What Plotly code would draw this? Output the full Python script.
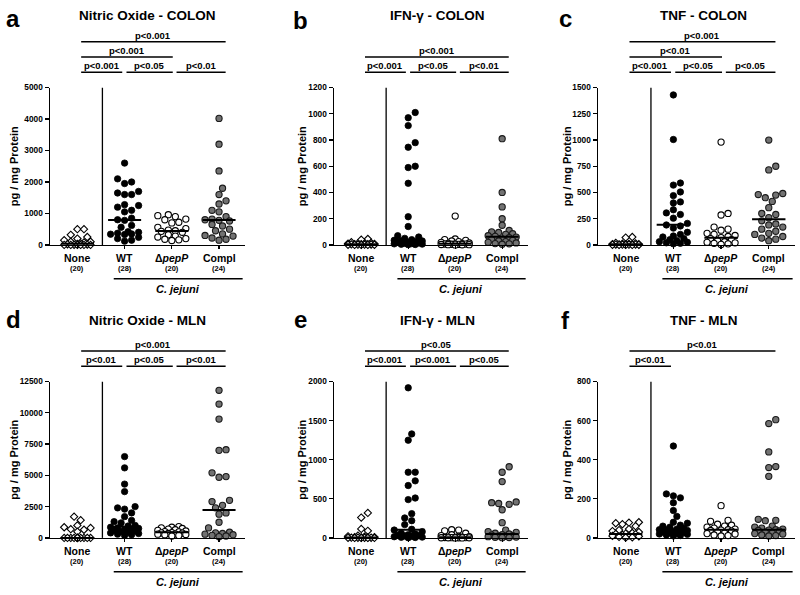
import numpy as np
import plotly.graph_objects as go

FONT = "Arial, Liberation Sans, sans-serif"
W, H = 800, 595

GROUPS = ["None", "WT", "Δ<i>pepP</i>", "Compl"]
COUNTS = ["(20)", "(28)", "(20)", "(24)"]

# ---------------- a: Nitric Oxide - COLON ----------------
a_none = [500, 500, 320, 250, 200, 150, 100, 100, 80, 50, 30, 20, 10, 5, 0, 0, 0, 0, 0, 0]
a_wt = [2600, 2100, 2000, 1950, 1700, 1650, 1600, 1600, 1280, 1250, 1200, 1100, 1050, 850,
        800, 780, 620, 560, 420, 400, 370, 350, 340, 330, 240, 200, 150, 120]
a_pepp = [960, 930, 900, 820, 800, 720, 700, 560, 520, 470, 450, 430, 400, 320, 280, 250,
          200, 180, 160, 140]
a_compl = [4020, 3200, 2350, 1800, 1600, 1400, 1300, 1100, 1050, 900, 820, 800, 780, 760,
           650, 600, 500, 450, 350, 300, 280, 220, 180, 150]
a_medians = [40, 790, 440, 790]
a_yticks = [0, 1000, 2000, 3000, 4000, 5000]
a_brackets = [(1, 2, "p<0.001", 0), (2, 3, "p<0.05", 0), (3, 4, "p<0.01", 0),
              (1, 3, "p<0.001", 1), (1, 4, "p<0.001", 2)]

# ---------------- b: IFN-γ - COLON ----------------
b_none = [45, 40, 20, 15, 12, 10, 10, 8, 6, 5, 5, 4, 3, 2, 2, 1, 1, 0, 0, 0]
b_wt = [1010, 970, 910, 780, 745, 600, 590, 470, 215, 140, 70, 60, 50, 40, 35, 30, 30, 25,
        20, 20, 15, 12, 10, 8, 6, 5, 3, 2]
b_pepp = [220, 45, 40, 35, 30, 25, 20, 15, 12, 10, 8, 7, 6, 5, 4, 3, 2, 2, 1, 0]
b_compl = [810, 400, 290, 200, 150, 110, 100, 95, 85, 80, 70, 65, 60, 55, 45, 40, 35, 30,
           25, 20, 15, 10, 8, 5]
b_medians = [5, 30, 8, 62]
b_yticks = [0, 200, 400, 600, 800, 1000, 1200]
b_brackets = [(1, 2, "p<0.001", 0), (2, 3, "p<0.05", 0), (3, 4, "p<0.01", 0),
              (1, 4, "p<0.001", 1)]

# ---------------- c: TNF - COLON ----------------
c_none = [75, 70, 20, 15, 12, 10, 8, 6, 5, 5, 4, 3, 3, 2, 2, 1, 1, 0, 0, 0]
c_wt = [1430, 1005, 590, 570, 505, 470, 410, 400, 335, 305, 290, 255, 205, 190, 180, 160,
        120, 100, 85, 75, 60, 50, 40, 30, 25, 20, 15, 10]
c_pepp = [980, 300, 285, 170, 150, 140, 110, 100, 90, 80, 70, 60, 50, 40, 30, 25, 20, 15,
          10, 5]
c_compl = [1000, 750, 715, 490, 480, 475, 450, 415, 355, 300, 290, 260, 230, 200, 190, 170,
           150, 130, 110, 100, 80, 65, 55, 40]
c_medians = [6, 191, 68, 245]
c_yticks = [0, 250, 500, 750, 1000, 1250, 1500]
c_brackets = [(1, 2, "p<0.001", 0), (2, 3, "p<0.05", 0), (3, 4, "p<0.05", 0),
              (1, 3, "p<0.01", 1), (1, 4, "p<0.001", 2)]

# ---------------- d: Nitric Oxide - MLN ----------------
d_none = [1700, 1420, 1000, 850, 800, 700, 650, 500, 0, 0, 0, 0, 0, 0, 0, 0, 0, 0, 0, 0]
d_wt = [6500, 5600, 4300, 3700, 2500, 2400, 2300, 2000, 1700, 1400, 1300, 1200, 1000, 950,
        850, 800, 750, 700, 650, 600, 550, 500, 450, 400, 350, 300, 250, 200]
d_pepp = [900, 850, 800, 750, 700, 650, 600, 550, 500, 480, 420, 400, 380, 350, 320, 300,
          280, 250, 200, 150]
d_compl = [11800, 10700, 9500, 7050, 7000, 5200, 4900, 4850, 3000, 2900, 2600, 2400, 2000,
           1900, 1250, 800, 450, 400, 350, 300, 250, 200, 150, 100]
d_medians = [0, 900, 445, 2220]
d_yticks = [0, 2500, 5000, 7500, 10000, 12500]
d_brackets = [(1, 2, "p<0.01", 0), (2, 3, "p<0.05", 0), (3, 4, "p<0.01", 0),
              (1, 4, "p<0.001", 1)]

# ---------------- e: IFN-γ - MLN ----------------
e_none = [320, 260, 115, 90, 30, 20, 15, 10, 8, 5, 5, 3, 2, 2, 1, 1, 0, 0, 0, 0]
e_wt = [1920, 1330, 1250, 840, 840, 730, 670, 510, 490, 310, 255, 220, 170, 110, 100, 80,
        60, 50, 40, 35, 30, 25, 20, 15, 10, 8, 5, 2]
e_pepp = [105, 100, 90, 60, 40, 30, 20, 15, 10, 8, 6, 5, 4, 3, 2, 2, 1, 1, 0, 0]
e_compl = [910, 840, 720, 460, 450, 440, 430, 360, 195, 100, 80, 70, 60, 50, 40, 35, 30, 25,
           20, 15, 10, 8, 5, 3]
e_medians = [5, 105, 7, 50]
e_yticks = [0, 500, 1000, 1500, 2000]
e_brackets = [(1, 2, "p<0.001", 0), (2, 3, "p<0.001", 0), (3, 4, "p<0.05", 0),
              (1, 4, "p<0.05", 1)]

# ---------------- f: TNF - MLN ----------------
f_none = [80, 78, 75, 70, 60, 45, 40, 35, 30, 25, 22, 20, 18, 15, 12, 10, 8, 5, 3, 2]
f_wt = [470, 225, 215, 205, 180, 140, 110, 80, 75, 65, 60, 55, 50, 45, 42, 40, 38, 35, 33,
        30, 28, 25, 22, 20, 18, 15, 12, 10]
f_pepp = [165, 90, 85, 70, 65, 60, 55, 50, 45, 42, 40, 38, 35, 30, 25, 22, 20, 15, 12, 10]
f_compl = [605, 585, 440, 365, 360, 315, 95, 90, 88, 60, 55, 50, 45, 42, 40, 38, 35, 30, 25,
           22, 20, 15, 12, 10]
f_medians = [20, 42, 42, 42]
f_yticks = [0, 200, 400, 600, 800]
f_brackets = [(1, 2, "p<0.01", 0), (1, 4, "p<0.01", 1)]

TITLES = ["Nitric Oxide - COLON", "IFN-γ - COLON", "TNF - COLON",
          "Nitric Oxide - MLN", "IFN-γ - MLN", "TNF - MLN"]
LETTERS = ["a", "b", "c", "d", "e", "f"]

panels = [
    ([a_none, a_wt, a_pepp, a_compl], a_medians, a_yticks, a_brackets),
    ([b_none, b_wt, b_pepp, b_compl], b_medians, b_yticks, b_brackets),
    ([c_none, c_wt, c_pepp, c_compl], c_medians, c_yticks, c_brackets),
    ([d_none, d_wt, d_pepp, d_compl], d_medians, d_yticks, d_brackets),
    ([e_none, e_wt, e_pepp, e_compl], e_medians, e_yticks, e_brackets),
    ([f_none, f_wt, f_pepp, f_compl], f_medians, f_yticks, f_brackets),
]

# ---- layout geometry (pixels) ----
X_DOM_PX = [(50, 245), (334, 528), (598, 795)]
Y_DOM_PX = [(84, 244), (383, 542)]          # (top, bottom=zero line)
XR = (0.42, 4.55)
TITLE_X = [147, 437, 703]
TITLE_Y = [10.5, 320.5]
LETTER_POS = [(13, 14), (300, 15.5), (565, 14), (13, 320), (300, 320), (565, 321)]
YTITLE_X = [14, 302, 567]
LEFT_EDGE = {1: 1.08, 2: 2.04, 3: 3.10}
RIGHT_EDGE = {2: 1.95, 3: 3.02, 4: 4.14}

MARKERS = [
    dict(symbol="diamond", size=5.6, color="white", line=dict(color="black", width=1.1)),
    dict(symbol="circle", size=6.4, color="black", line=dict(color="black", width=0.8)),
    dict(symbol="circle", size=6.2, color="white", line=dict(color="black", width=1.1)),
    dict(symbol="circle", size=6.2, color="#727272", line=dict(color="#1a1a1a", width=1.1)),
]


def fx(p):
    return p / W


def fy(p):
    return 1 - p / H


def swarm(vals, center, ymax, ppx, ppy, d=7.0, maxhalf=14):
    ys = np.asarray(vals, float)
    order = np.argsort(ys, kind="stable")
    placed = []
    xs = np.zeros(len(ys))
    cands = [0.0]
    for s in range(1, 14):
        cands += [s * d / 2, -s * d / 2]
    cands = [c for c in cands if abs(c) <= maxhalf]
    for k in order:
        yp = ys[k] * ppy
        best, bestscore, chosen = None, -1, None
        for c in cands:
            mind = min((np.hypot(c - px, yp - py) for px, py in placed), default=1e9)
            if mind >= d * 0.95:
                chosen = c
                break
            if mind > bestscore:
                bestscore, best = mind, c
        if chosen is None:
            chosen = best
        placed.append((chosen, yp))
        xs[k] = center + chosen / ppx
    return xs


fig = go.Figure()
shapes, annos = [], []
layout_axes = {}

for idx, (groups, medians, yticks, brackets) in enumerate(panels):
    row, col = divmod(idx, 3)
    n = idx + 1
    xa = "x" if n == 1 else f"x{n}"
    ya = "y" if n == 1 else f"y{n}"
    xkey = "xaxis" if n == 1 else f"xaxis{n}"
    ykey = "yaxis" if n == 1 else f"yaxis{n}"
    x0p, x1p = X_DOM_PX[col]
    ytp, ybp = Y_DOM_PX[row]
    ymax = yticks[-1]
    ppx = (x1p - x0p) / (XR[1] - XR[0])
    ppy = (ybp - ytp) / ymax

    layout_axes[xkey] = dict(domain=[fx(x0p), fx(x1p)], range=list(XR), anchor=ya,
                             showgrid=False, zeroline=False, showline=True, linecolor="black",
                             linewidth=1.5, ticks="outside", tickvals=[1, 2, 3, 4], ticklen=3,
                             tickwidth=1.3, tickcolor="black", showticklabels=False,
                             fixedrange=True)
    layout_axes[ykey] = dict(domain=[fy(ybp), fy(ytp)], range=[0, ymax], anchor=xa,
                             showgrid=False, zeroline=False, showline=True, linecolor="black",
                             linewidth=1.5, ticks="outside", ticklen=4, tickwidth=1.3,
                             tickcolor="black", tickvals=yticks,
                             ticktext=[str(t) for t in yticks],
                             tickfont=dict(family=FONT, size=8.3, color="black", weight="bold"),
                             fixedrange=True)

    # points
    for gi, vals in enumerate(groups):
        xs = swarm(vals, gi + 1, ymax, ppx, ppy, d=7.0 if gi else 6.6)
        fig.add_trace(go.Scatter(x=xs, y=vals, mode="markers", marker=MARKERS[gi],
                                 xaxis=xa, yaxis=ya, cliponaxis=False, showlegend=False,
                                 hoverinfo="y"))
    # median lines
    for gi, m in enumerate(medians):
        fig.add_trace(go.Scatter(x=[gi + 1 - 0.35, gi + 1 + 0.35], y=[m, m], mode="lines",
                                 line=dict(color="black", width=2), xaxis=xa, yaxis=ya,
                                 cliponaxis=False, showlegend=False, hoverinfo="skip"))
    # divider
    fig.add_trace(go.Scatter(x=[1.53, 1.53], y=[0, ymax], mode="lines",
                             line=dict(color="black", width=1.3), xaxis=xa, yaxis=ya,
                             showlegend=False, hoverinfo="skip"))

    # p-value brackets
    for (i, j, lab, lev) in brackets:
        by = ytp - 15.5 - 15.5 * lev
        xl, xr = LEFT_EDGE[i], RIGHT_EDGE[j]
        shapes.append(dict(type="line", xref=xa, yref="paper", x0=xl, x1=xr,
                           y0=fy(by), y1=fy(by), line=dict(color="black", width=1.5)))
        annos.append(dict(xref=xa, yref="paper", x=(xl + xr) / 2, y=fy(by - 6.5),
                          text="<b>" + lab.replace("<", "&lt;") + "</b>", showarrow=False,
                          font=dict(family=FONT, size=9.5, color="black"),
                          xanchor="center", yanchor="middle"))

    # category labels
    for gi, (g, c) in enumerate(zip(GROUPS, COUNTS)):
        annos.append(dict(xref=xa, yref="paper", x=gi + 1, y=fy(ybp + 13),
                          text=f"<b>{g}</b>", showarrow=False,
                          font=dict(family=FONT, size=10.5, color="black"),
                          xanchor="center", yanchor="middle"))
        annos.append(dict(xref=xa, yref="paper", x=gi + 1, y=fy(ybp + 24.5),
                          text=f"<b>{c}</b>", showarrow=False,
                          font=dict(family=FONT, size=7.5, color="black"),
                          xanchor="center", yanchor="middle"))
    # C. jejuni
    shapes.append(dict(type="line", xref=xa, yref="paper", x0=1.77, x1=4.5,
                       y0=fy(ybp + 34.5), y1=fy(ybp + 34.5),
                       line=dict(color="black", width=1.5)))
    annos.append(dict(xref=xa, yref="paper", x=3.13, y=fy(ybp + 45),
                      text="<b><i>C. jejuni</i></b>", showarrow=False,
                      font=dict(family=FONT, size=11, color="black"),
                      xanchor="center", yanchor="middle"))
    # y-axis title
    annos.append(dict(xref="paper", yref="paper", x=fx(YTITLE_X[col]),
                      y=fy((ytp + ybp) / 2), text="<b>pg / mg Protein</b>",
                      textangle=-90, showarrow=False,
                      font=dict(family=FONT, size=11, color="black"),
                      xanchor="center", yanchor="middle"))
    # title
    annos.append(dict(xref="paper", yref="paper", x=fx(TITLE_X[col]), y=fy(TITLE_Y[row]),
                      text=f"<b>{TITLES[idx]}</b>", showarrow=False,
                      font=dict(family=FONT, size=13.5, color="black"),
                      xanchor="center", yanchor="middle"))
    lx, ly = LETTER_POS[idx]
    annos.append(dict(xref="paper", yref="paper", x=fx(lx), y=fy(ly),
                      text=f"<b>{LETTERS[idx]}</b>", showarrow=False,
                      font=dict(family=FONT, size=24, color="black"),
                      xanchor="center", yanchor="middle"))

fig.update_layout(width=W, height=H, margin=dict(l=0, r=0, t=0, b=0),
                  paper_bgcolor="white", plot_bgcolor="white", showlegend=False,
                  hovermode=False, shapes=shapes, annotations=annos, **layout_axes)

# remove the browser's default 8px body margin so the figure fills the window exactly
fig.write_html("out.html", config={"displayModeBar": False, "staticPlot": True},
               post_script="document.body.style.margin='0';document.body.style.overflow='hidden';")
